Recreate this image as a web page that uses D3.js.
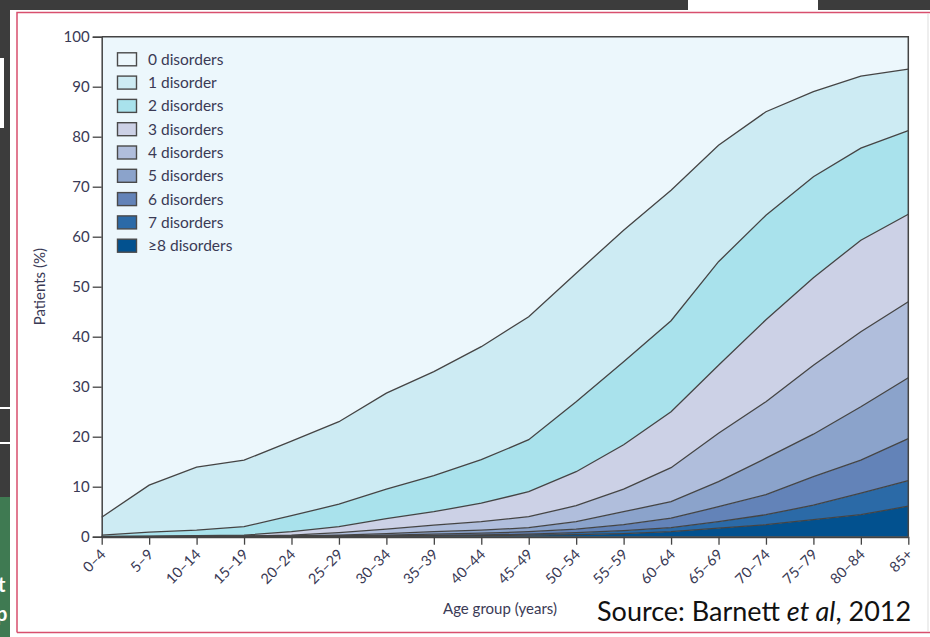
<!DOCTYPE html>
<html>
<head>
<meta charset="utf-8">
<script src="https://cdn.jsdelivr.net/npm/d3@7"></script>
<style>
    body { margin: 0; background: #fff; }
    svg { display: block; font-family: Lato, "Open Sans", sans-serif; }
</style>
</head>
<body>
<div id="chart"></div>
<script>
// age groups along the x axis
const ageGroups = ["0–4", "5–9", "10–14", "15–19", "20–24", "25–29", "30–34", "35–39", "40–44",
    "45–49", "50–54", "55–59", "60–64", "65–69", "70–74", "75–79", "80–84", "85+"];

// % of patients with exactly n disorders, per age group
const pct0 = [96.1, 89.7, 86.1, 84.7, 80.9, 77.0, 71.3, 67.0, 62.0, 56.0, 47.3, 38.7, 30.7, 21.7, 15.0, 11.0, 7.9, 6.5];
const pct1 = [3.6, 9.4, 12.6, 13.3, 14.9, 16.5, 19.2, 20.8, 22.6, 24.6, 25.7, 26.3, 26.1, 23.3, 20.7, 17.0, 14.4, 12.3];
const pct2 = [0.25, 0.8, 1.1, 1.7, 3.2, 4.5, 5.9, 7.2, 8.7, 10.4, 14.0, 16.6, 18.2, 20.7, 20.9, 20.2, 18.4, 16.7];
const pct3 = [0.03, 0.05, 0.1, 0.15, 0.7, 1.2, 2.1, 2.7, 3.7, 5.0, 6.8, 8.9, 11.2, 13.6, 16.4, 17.5, 18.3, 17.5];
const pct4 = [0.02, 0.05, 0.05, 0.05, 0.15, 0.5, 0.9, 1.3, 1.7, 2.2, 3.2, 4.5, 6.8, 9.7, 11.3, 13.8, 15.0, 15.2];
const pct5 = [0, 0, 0.05, 0.05, 0.05, 0.15, 0.3, 0.5, 0.6, 0.8, 1.5, 2.6, 3.3, 5.0, 7.3, 8.5, 10.7, 12.2];
const pct6 = [0, 0, 0, 0.05, 0.05, 0.05, 0.15, 0.25, 0.35, 0.5, 0.7, 1.2, 1.9, 3.0, 4.0, 5.7, 6.6, 8.4];
const pct7 = [0, 0, 0, 0, 0.05, 0.05, 0.05, 0.1, 0.15, 0.2, 0.4, 0.6, 0.8, 1.3, 2.0, 2.9, 4.3, 5.1];
const pct8 = [0, 0, 0, 0, 0, 0.05, 0.1, 0.15, 0.2, 0.3, 0.4, 0.6, 1.0, 1.7, 2.4, 3.4, 4.4, 6.1];

const seriesLabels = ["0 disorders", "1 disorder", "2 disorders", "3 disorders", "4 disorders",
    "5 disorders", "6 disorders", "7 disorders", "≥8 disorders"];
const seriesColors = ["#ecf7fc", "#cdebf3", "#a9e2ec", "#ccd1e6", "#b0bedc",
    "#8ba3cb", "#6383b8", "#2b6aa7", "#02518f"];
const yTicks = [0, 10, 20, 30, 40, 50, 60, 70, 80, 90, 100];

const allSeries = [pct0, pct1, pct2, pct3, pct4, pct5, pct6, pct7, pct8];
const rows = ageGroups.map((age, i) => {
    const r = {age: age};
    allSeries.forEach((s, k) => r["k" + k] = s[i]);
    return r;
});

const W = 930, H = 637;
const textColor = "#3a3a55", lineColor = "#444";

const svg = d3.select("#chart")
    .append("svg")
    .attr("width", W)
    .attr("height", H);

// screenshot surroundings
svg.append("rect").attr("x", 0).attr("y", 0).attr("width", 688).attr("height", 10).attr("fill", "#3c3c3c");
svg.append("rect").attr("x", 818).attr("y", 0).attr("width", 112).attr("height", 10).attr("fill", "#3c3c3c");
svg.append("rect").attr("x", 0).attr("y", 0).attr("width", 10).attr("height", 497).attr("fill", "#3c3c3c");
svg.append("rect").attr("x", 0).attr("y", 58).attr("width", 4).attr("height", 70).attr("fill", "#fff");
svg.append("rect").attr("x", 0).attr("y", 407).attr("width", 10).attr("height", 2).attr("fill", "#fff");
svg.append("rect").attr("x", 0).attr("y", 442).attr("width", 10).attr("height", 2).attr("fill", "#fff");
svg.append("rect").attr("x", 0).attr("y", 497).attr("width", 10).attr("height", 140).attr("fill", "#3f7a52");
svg.append("text").attr("x", -7).attr("y", 592).attr("fill", "#fff").attr("font-weight", "bold")
    .attr("font-size", 20).text("lt");
svg.append("text").attr("x", -4).attr("y", 621).attr("fill", "#fff").attr("font-weight", "bold")
    .attr("font-size", 20).text("p");
svg.append("path").attr("d", `M17,632.5 V12.5 H930 M17,632.5 H930`)
    .attr("fill", "none").attr("stroke", "#d84f6e").attr("stroke-width", 1.5);
svg.append("line").attr("x1", 928).attr("x2", 928).attr("y1", 14).attr("y2", 631)
    .attr("stroke", "#ddd");

const x = d3.scalePoint()
    .domain(ageGroups)
    .range([101.7, 908.3]);

const y = d3.scaleLinear()
    .domain([0, 100])
    .range([536.7, 36.7]);

// stack from ≥8 at the bottom up to 0 disorders at the top
const keys = d3.range(8, -1, -1).map(k => "k" + k);
const stacked = d3.stack().keys(keys)(rows);

const area = d3.area()
    .x(d => x(d.data.age))
    .y0(d => y(d[0]))
    .y1(d => y(d[1]));

const line = d3.line()
    .x(d => x(d.data.age))
    .y(d => y(d[1]));

svg.selectAll(".layer")
    .data(stacked)
    .enter()
    .append("path")
    .attr("class", "layer")
    .attr("d", area)
    .attr("fill", d => seriesColors[+d.key.slice(1)]);

svg.selectAll(".edge")
    .data(stacked.slice(0, -1))
    .enter()
    .append("path")
    .attr("class", "edge")
    .attr("d", line)
    .attr("fill", "none")
    .attr("stroke", lineColor)
    .attr("stroke-width", 1.3);

// frame top and right
svg.append("path")
    .attr("d", `M${x.range()[0]},${y(100)} H${x.range()[1]} V${y(0)}`)
    .attr("fill", "none")
    .attr("stroke", lineColor)
    .attr("stroke-width", 1.5);

// y axis
const yAxis = svg.append("g")
    .attr("transform", `translate(${x.range()[0]},0)`)
    .call(d3.axisLeft(y).tickValues(yTicks).tickSize(9).tickPadding(3));
yAxis.select(".domain").attr("stroke", lineColor).attr("stroke-width", 1.5);
yAxis.selectAll(".tick line").attr("stroke", lineColor).attr("stroke-width", 1.3);
yAxis.selectAll(".tick text").attr("fill", textColor).attr("font-size", 15)
    .attr("font-family", "Lato, sans-serif");

// x axis
const xAxis = svg.append("g")
    .attr("transform", `translate(0,${y(0)})`)
    .call(d3.axisBottom(x).tickSize(8).tickSizeOuter(0));
xAxis.select(".domain").attr("stroke", lineColor).attr("stroke-width", 2);
xAxis.selectAll(".tick line").attr("stroke", lineColor).attr("stroke-width", 1.3);
xAxis.selectAll(".tick text")
    .attr("fill", textColor)
    .attr("font-size", 14.5)
    .attr("font-family", "Lato, sans-serif")
    .attr("text-anchor", "end")
    .attr("x", 0)
    .attr("y", 0)
    .attr("dy", "0.35em")
    .attr("transform", "translate(1,15) rotate(-45)");

// axis titles
svg.append("text")
    .attr("transform", `translate(45,${y(50)}) rotate(-90)`)
    .attr("text-anchor", "middle")
    .attr("fill", textColor)
    .attr("font-size", 15)
    .text("Patients (%)");

svg.append("text")
    .attr("x", 500)
    .attr("y", 614)
    .attr("text-anchor", "middle")
    .attr("fill", textColor)
    .attr("font-size", 15)
    .text("Age group (years)");

// legend
const legend = svg.append("g")
    .selectAll("g")
    .data(seriesLabels)
    .enter()
    .append("g")
    .attr("transform", (d, i) => `translate(117,${59.3 + i * 23.3})`);

legend.append("rect")
    .attr("x", 0.5)
    .attr("y", -6.5)
    .attr("width", 19)
    .attr("height", 13)
    .attr("fill", (d, i) => seriesColors[i])
    .attr("stroke", "#4a4a4a")
    .attr("stroke-width", 1.4);

legend.append("text")
    .attr("x", 31)
    .attr("dy", "0.35em")
    .attr("fill", textColor)
    .attr("font-size", 15.5)
    .text(d => d);

// source note
const src = svg.append("text")
    .attr("x", 597)
    .attr("y", 621)
    .attr("fill", "#111")
    .attr("font-size", 27)
    .attr("font-family", "Lato, 'Open Sans', sans-serif");
src.append("tspan").text("Source: Barnett ");
src.append("tspan").attr("font-style", "italic").text("et al");
src.append("tspan").text(", 2012");
</script>
</body>
</html>
